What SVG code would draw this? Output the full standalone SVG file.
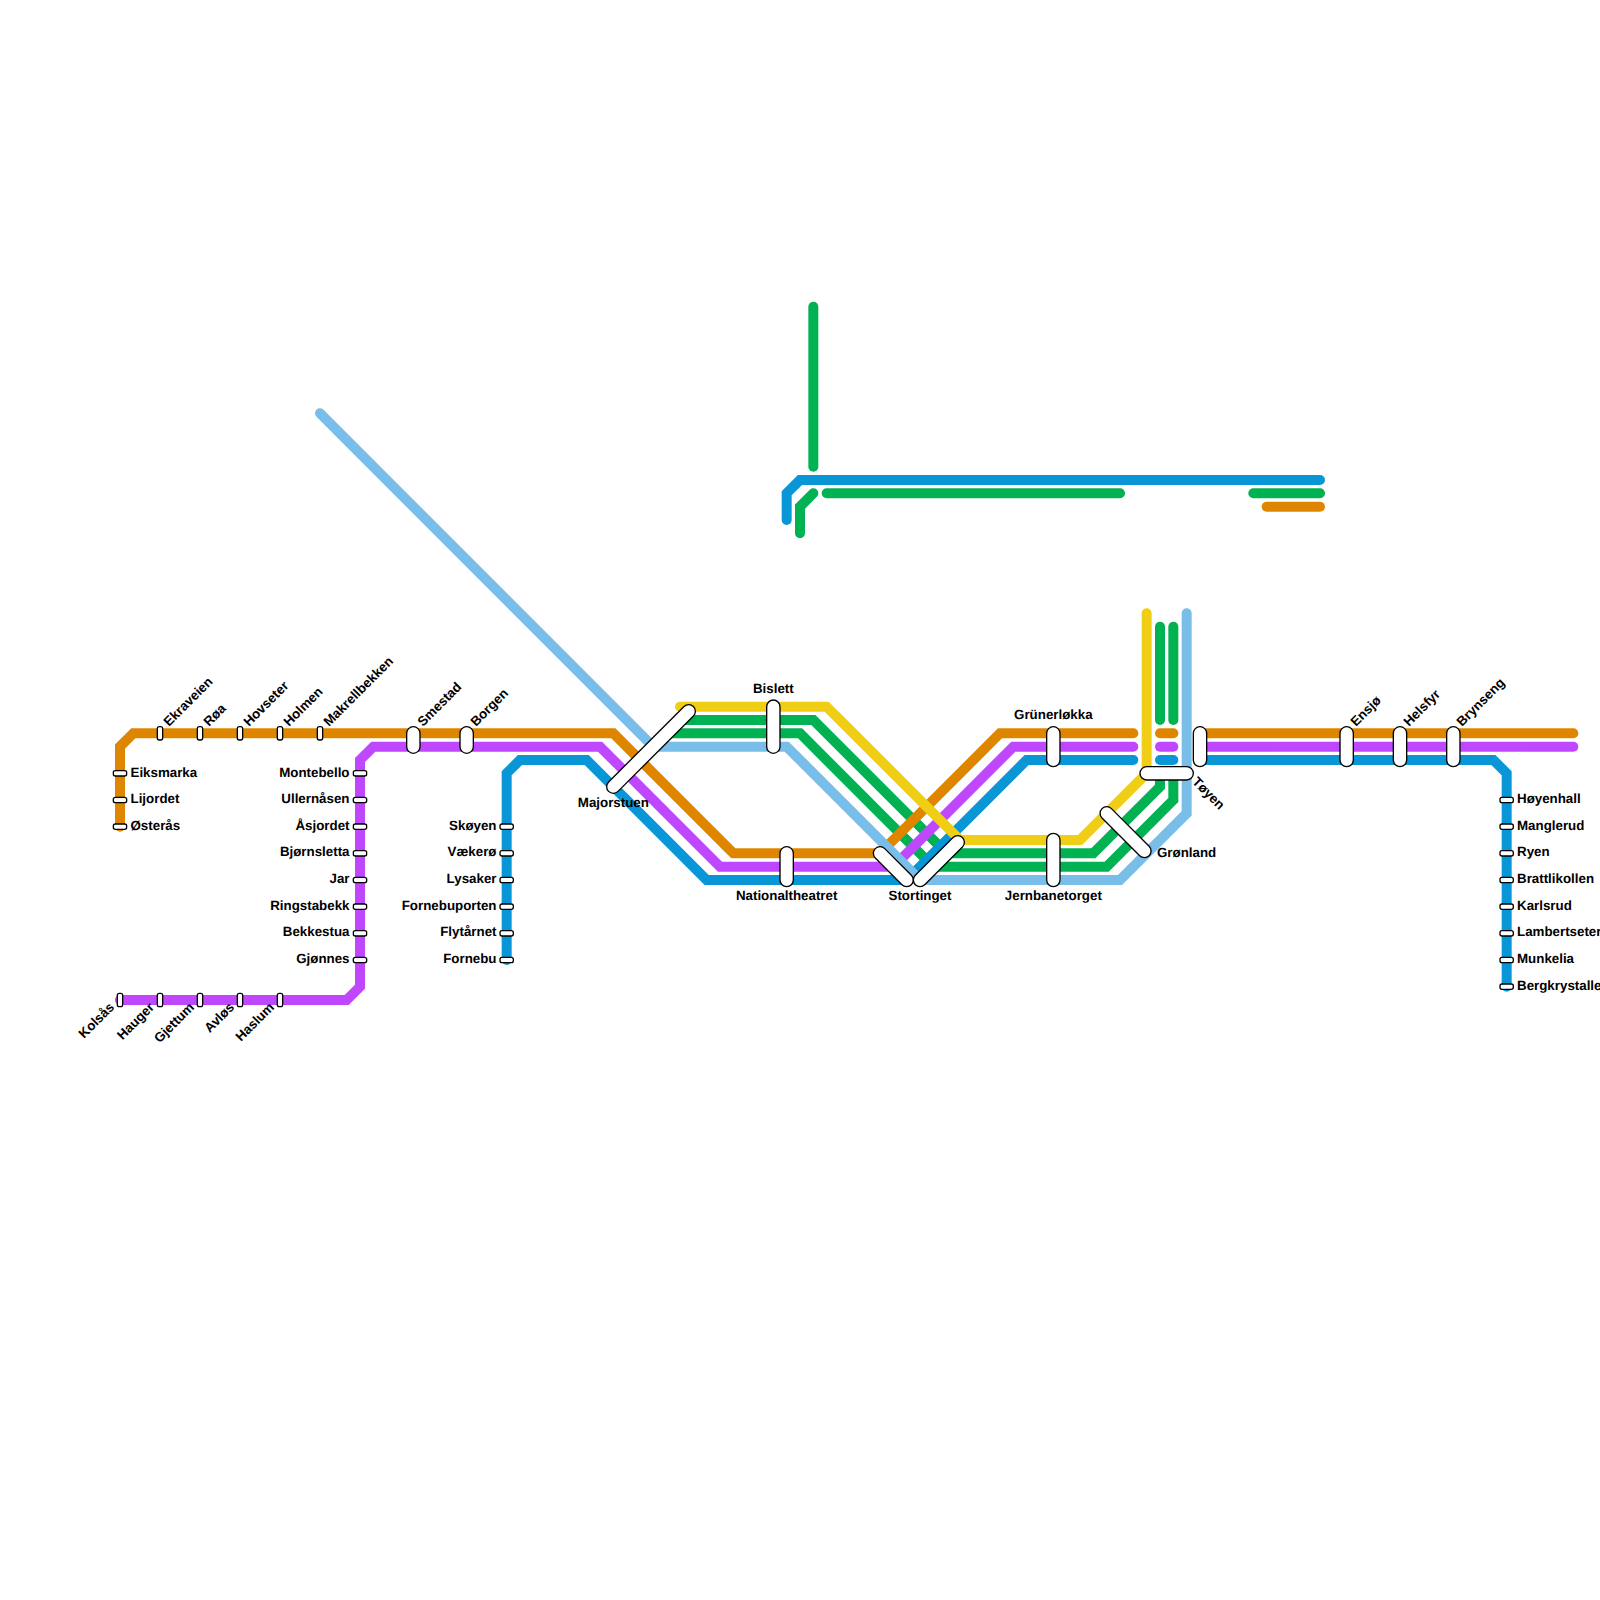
<svg xmlns="http://www.w3.org/2000/svg" width="1600" height="1600" viewBox="0 0 1600 1600">
<style>
.l{fill:none;stroke-width:10;stroke-linecap:round;stroke-linejoin:miter}
.o{stroke:#df8600}.p{stroke:#bf48ff}.b{stroke:#0896d7}.g{stroke:#00b251}.c{stroke:#79bde9}.y{stroke:#f0ce15}
.s{fill:#fff;stroke:#000;stroke-width:1.33}
text{font-family:"Liberation Sans",Arial,sans-serif;font-size:13.33px;font-weight:700;fill:#000;text-rendering:geometricPrecision}
.m{text-anchor:middle}.e{text-anchor:end}
</style>
<rect width="1600" height="1600" fill="#fff"/>
<g id="connectors">
<path class="l g" d="M680 720H813.33L946.67 853.33H1093.33L1160 786.67V775"/>
<path class="l g" d="M666.67 733.33H800L933.33 866.67H1106.67L1173.33 800V775"/>
<path class="l g" d="M1160 626.67V720"/>
<path class="l g" d="M1173.33 626.67V720"/>
<path class="l g" d="M813.33 306.67V466.67"/>
<path class="l g" d="M800 533.33V506.67L813.33 493.33"/>
<path class="l g" d="M826.67 493.33H1120"/>
<path class="l g" d="M1253.33 493.33H1320"/>
<path class="l o" d="M120 826.67V746.67L133.33 733.33H613.33L733.33 853.33H880L1000 733.33H1133.33"/>
<path class="l o" d="M1160 733.33H1173.33"/>
<path class="l o" d="M1200 733.33H1573.33"/>
<path class="l o" d="M1266.67 506.67H1320"/>
<path class="l p" d="M120 1000H346.67L360 986.67V760L373.33 746.67H600L720 866.67H893.33L1013.33 746.67H1133.33"/>
<path class="l p" d="M1160 746.67H1173.33"/>
<path class="l p" d="M1200 746.67H1573.33"/>
<path class="l b" d="M506.67 960V773.33L520 760H586.67L706.67 880H906.67L1026.67 760H1133.33"/>
<path class="l b" d="M1160 760H1173.33"/>
<path class="l b" d="M1200 760H1493.33L1506.67 773.33V986.67"/>
<path class="l b" d="M786.67 520V493.33L800 480H1320"/>
<path class="l c" d="M320 413.33L653.33 746.67H786.67L920 880H1120L1186.67 813.33V613.33"/>
<path class="l y" d="M680 706.67H826.67L960 840H1080L1146.67 773.33V613.33"/>
</g>
<g id="n-eiksmarka"><rect class="s" x="113.33" y="770.67" width="13.33" height="5.33" rx="2"/><text x="130.5" y="776.5">Eiksmarka</text></g>
<g id="n-lijordet"><rect class="s" x="113.33" y="797.33" width="13.33" height="5.33" rx="2"/><text x="130.5" y="803">Lijordet</text></g>
<g id="n-osteras"><rect class="s" x="113.33" y="824" width="13.33" height="5.33" rx="2"/><text x="130.5" y="829.5">Østerås</text></g>
<g id="n-ekraveien"><rect class="s" x="157.33" y="726.67" width="5.33" height="13.33" rx="2"/><text transform="translate(169 727) rotate(-45)">Ekraveien</text></g>
<g id="n-roa"><rect class="s" x="197.33" y="726.67" width="5.33" height="13.33" rx="2"/><text transform="translate(209 727) rotate(-45)">Røa</text></g>
<g id="n-hovseter"><rect class="s" x="237.33" y="726.67" width="5.33" height="13.33" rx="2"/><text transform="translate(249 727) rotate(-45)">Hovseter</text></g>
<g id="n-holmen"><rect class="s" x="277.33" y="726.67" width="5.33" height="13.33" rx="2"/><text transform="translate(289 727) rotate(-45)">Holmen</text></g>
<g id="n-makrellbekken"><rect class="s" x="317.33" y="726.67" width="5.33" height="13.33" rx="2"/><text transform="translate(329 727) rotate(-45)">Makrellbekken</text></g>
<g id="n-smestad"><rect class="s" x="406.67" y="726.67" width="13.33" height="26.67" rx="6.67"/><text transform="translate(423 727) rotate(-45)">Smestad</text></g>
<g id="n-borgen"><rect class="s" x="460" y="726.67" width="13.33" height="26.67" rx="6.67"/><text transform="translate(476 727) rotate(-45)">Borgen</text></g>
<g id="n-montebello"><rect class="s" x="353.33" y="770.67" width="13.33" height="5.33" rx="2"/><text class="e" x="349.5" y="776.5">Montebello</text></g>
<g id="n-ullernasen"><rect class="s" x="353.33" y="797.33" width="13.33" height="5.33" rx="2"/><text class="e" x="349.5" y="803">Ullernåsen</text></g>
<g id="n-asjordet"><rect class="s" x="353.33" y="824" width="13.33" height="5.33" rx="2"/><text class="e" x="349.5" y="829.5">Åsjordet</text></g>
<g id="n-bjornsletta"><rect class="s" x="353.33" y="850.67" width="13.33" height="5.33" rx="2"/><text class="e" x="349.5" y="856">Bjørnsletta</text></g>
<g id="n-jar"><rect class="s" x="353.33" y="877.33" width="13.33" height="5.33" rx="2"/><text class="e" x="349.5" y="883">Jar</text></g>
<g id="n-ringstabekk"><rect class="s" x="353.33" y="904" width="13.33" height="5.33" rx="2"/><text class="e" x="349.5" y="909.5">Ringstabekk</text></g>
<g id="n-bekkestua"><rect class="s" x="353.33" y="930.67" width="13.33" height="5.33" rx="2"/><text class="e" x="349.5" y="936">Bekkestua</text></g>
<g id="n-gjonnes"><rect class="s" x="353.33" y="957.33" width="13.33" height="5.33" rx="2"/><text class="e" x="349.5" y="963">Gjønnes</text></g>
<g id="n-skoyen"><rect class="s" x="500" y="824" width="13.33" height="5.33" rx="2"/><text class="e" x="496.5" y="829.5">Skøyen</text></g>
<g id="n-vakero"><rect class="s" x="500" y="850.67" width="13.33" height="5.33" rx="2"/><text class="e" x="496.5" y="856">Vækerø</text></g>
<g id="n-lysaker"><rect class="s" x="500" y="877.33" width="13.33" height="5.33" rx="2"/><text class="e" x="496.5" y="883">Lysaker</text></g>
<g id="n-fornebuporten"><rect class="s" x="500" y="904" width="13.33" height="5.33" rx="2"/><text class="e" x="496.5" y="909.5">Fornebuporten</text></g>
<g id="n-flytarnet"><rect class="s" x="500" y="930.67" width="13.33" height="5.33" rx="2"/><text class="e" x="496.5" y="936">Flytårnet</text></g>
<g id="n-fornebu"><rect class="s" x="500" y="957.33" width="13.33" height="5.33" rx="2"/><text class="e" x="496.5" y="963">Fornebu</text></g>
<g id="n-kolsas"><rect class="s" x="117.33" y="993.33" width="5.33" height="13.33" rx="2"/><text class="e" transform="translate(115 1008) rotate(-45)">Kolsås</text></g>
<g id="n-hauger"><rect class="s" x="157.33" y="993.33" width="5.33" height="13.33" rx="2"/><text class="e" transform="translate(155 1008) rotate(-45)">Hauger</text></g>
<g id="n-gjettum"><rect class="s" x="197.33" y="993.33" width="5.33" height="13.33" rx="2"/><text class="e" transform="translate(195 1008) rotate(-45)">Gjettum</text></g>
<g id="n-avlos"><rect class="s" x="237.33" y="993.33" width="5.33" height="13.33" rx="2"/><text class="e" transform="translate(235 1008) rotate(-45)">Avløs</text></g>
<g id="n-haslum"><rect class="s" x="277.33" y="993.33" width="5.33" height="13.33" rx="2"/><text class="e" transform="translate(275 1008) rotate(-45)">Haslum</text></g>
<g id="n-majorstuen"><rect class="s" x="0" y="-6.67" width="120" height="13.33" rx="6.67" transform="translate(608.6 791.4) rotate(-45)"/><text class="m" x="613.33" y="806.5">Majorstuen</text></g>
<g id="n-bislett"><rect class="s" x="766.67" y="700" width="13.33" height="53.33" rx="6.67"/><text class="m" x="773.33" y="693">Bislett</text></g>
<g id="n-nationaltheatret"><rect class="s" x="780" y="846.67" width="13.33" height="40" rx="6.67"/><text class="m" x="786.67" y="900">Nationaltheatret</text></g>
<g id="n-stortinget"><rect class="s" x="0" y="-6.67" width="51" height="13.33" rx="6.67" transform="translate(875.3 848.6) rotate(45)"/><rect class="s" x="0" y="-6.67" width="66.67" height="13.33" rx="6.67" transform="translate(915.3 884.7) rotate(-45)"/><text class="m" x="920" y="900">Stortinget</text></g>
<g id="n-jernbanetorget"><rect class="s" x="1046.67" y="833.33" width="13.33" height="53.33" rx="6.67"/><text class="m" x="1053.33" y="900">Jernbanetorget</text></g>
<g id="n-grunerlokka"><rect class="s" x="1046.67" y="726.67" width="13.33" height="40" rx="6.67"/><text class="m" x="1053.33" y="719">Grünerløkka</text></g>
<g id="n-gronland"><rect class="s" x="0" y="-6.67" width="66.67" height="13.33" rx="6.67" transform="translate(1102 808.6) rotate(45)"/><text x="1157" y="857">Grønland</text></g>
<g id="n-toyen"><rect class="s" x="1140" y="766.67" width="53.33" height="13.33" rx="6.67"/><rect class="s" x="1193.33" y="726.67" width="13.33" height="40" rx="6.67"/><text transform="translate(1191.5 782.5) rotate(45)">Tøyen</text></g>
<g id="n-ensjo"><rect class="s" x="1340" y="726.67" width="13.33" height="40" rx="6.67"/><text transform="translate(1356 727) rotate(-45)">Ensjø</text></g>
<g id="n-helsfyr"><rect class="s" x="1393.33" y="726.67" width="13.33" height="40" rx="6.67"/><text transform="translate(1409 727) rotate(-45)">Helsfyr</text></g>
<g id="n-brynseng"><rect class="s" x="1446.67" y="726.67" width="13.33" height="40" rx="6.67"/><text transform="translate(1462 727) rotate(-45)">Brynseng</text></g>
<g id="n-hoyenhall"><rect class="s" x="1500" y="797.33" width="13.33" height="5.33" rx="2"/><text x="1517" y="803">Høyenhall</text></g>
<g id="n-manglerud"><rect class="s" x="1500" y="824" width="13.33" height="5.33" rx="2"/><text x="1517" y="829.5">Manglerud</text></g>
<g id="n-ryen"><rect class="s" x="1500" y="850.67" width="13.33" height="5.33" rx="2"/><text x="1517" y="856">Ryen</text></g>
<g id="n-brattlikollen"><rect class="s" x="1500" y="877.33" width="13.33" height="5.33" rx="2"/><text x="1517" y="883">Brattlikollen</text></g>
<g id="n-karlsrud"><rect class="s" x="1500" y="904" width="13.33" height="5.33" rx="2"/><text x="1517" y="909.5">Karlsrud</text></g>
<g id="n-lambertseter"><rect class="s" x="1500" y="930.67" width="13.33" height="5.33" rx="2"/><text x="1517" y="936">Lambertseter</text></g>
<g id="n-munkelia"><rect class="s" x="1500" y="957.33" width="13.33" height="5.33" rx="2"/><text x="1517" y="963">Munkelia</text></g>
<g id="n-bergkrystallen"><rect class="s" x="1500" y="984" width="13.33" height="5.33" rx="2"/><text x="1517" y="989.5">Bergkrystallen</text></g>
</svg>
